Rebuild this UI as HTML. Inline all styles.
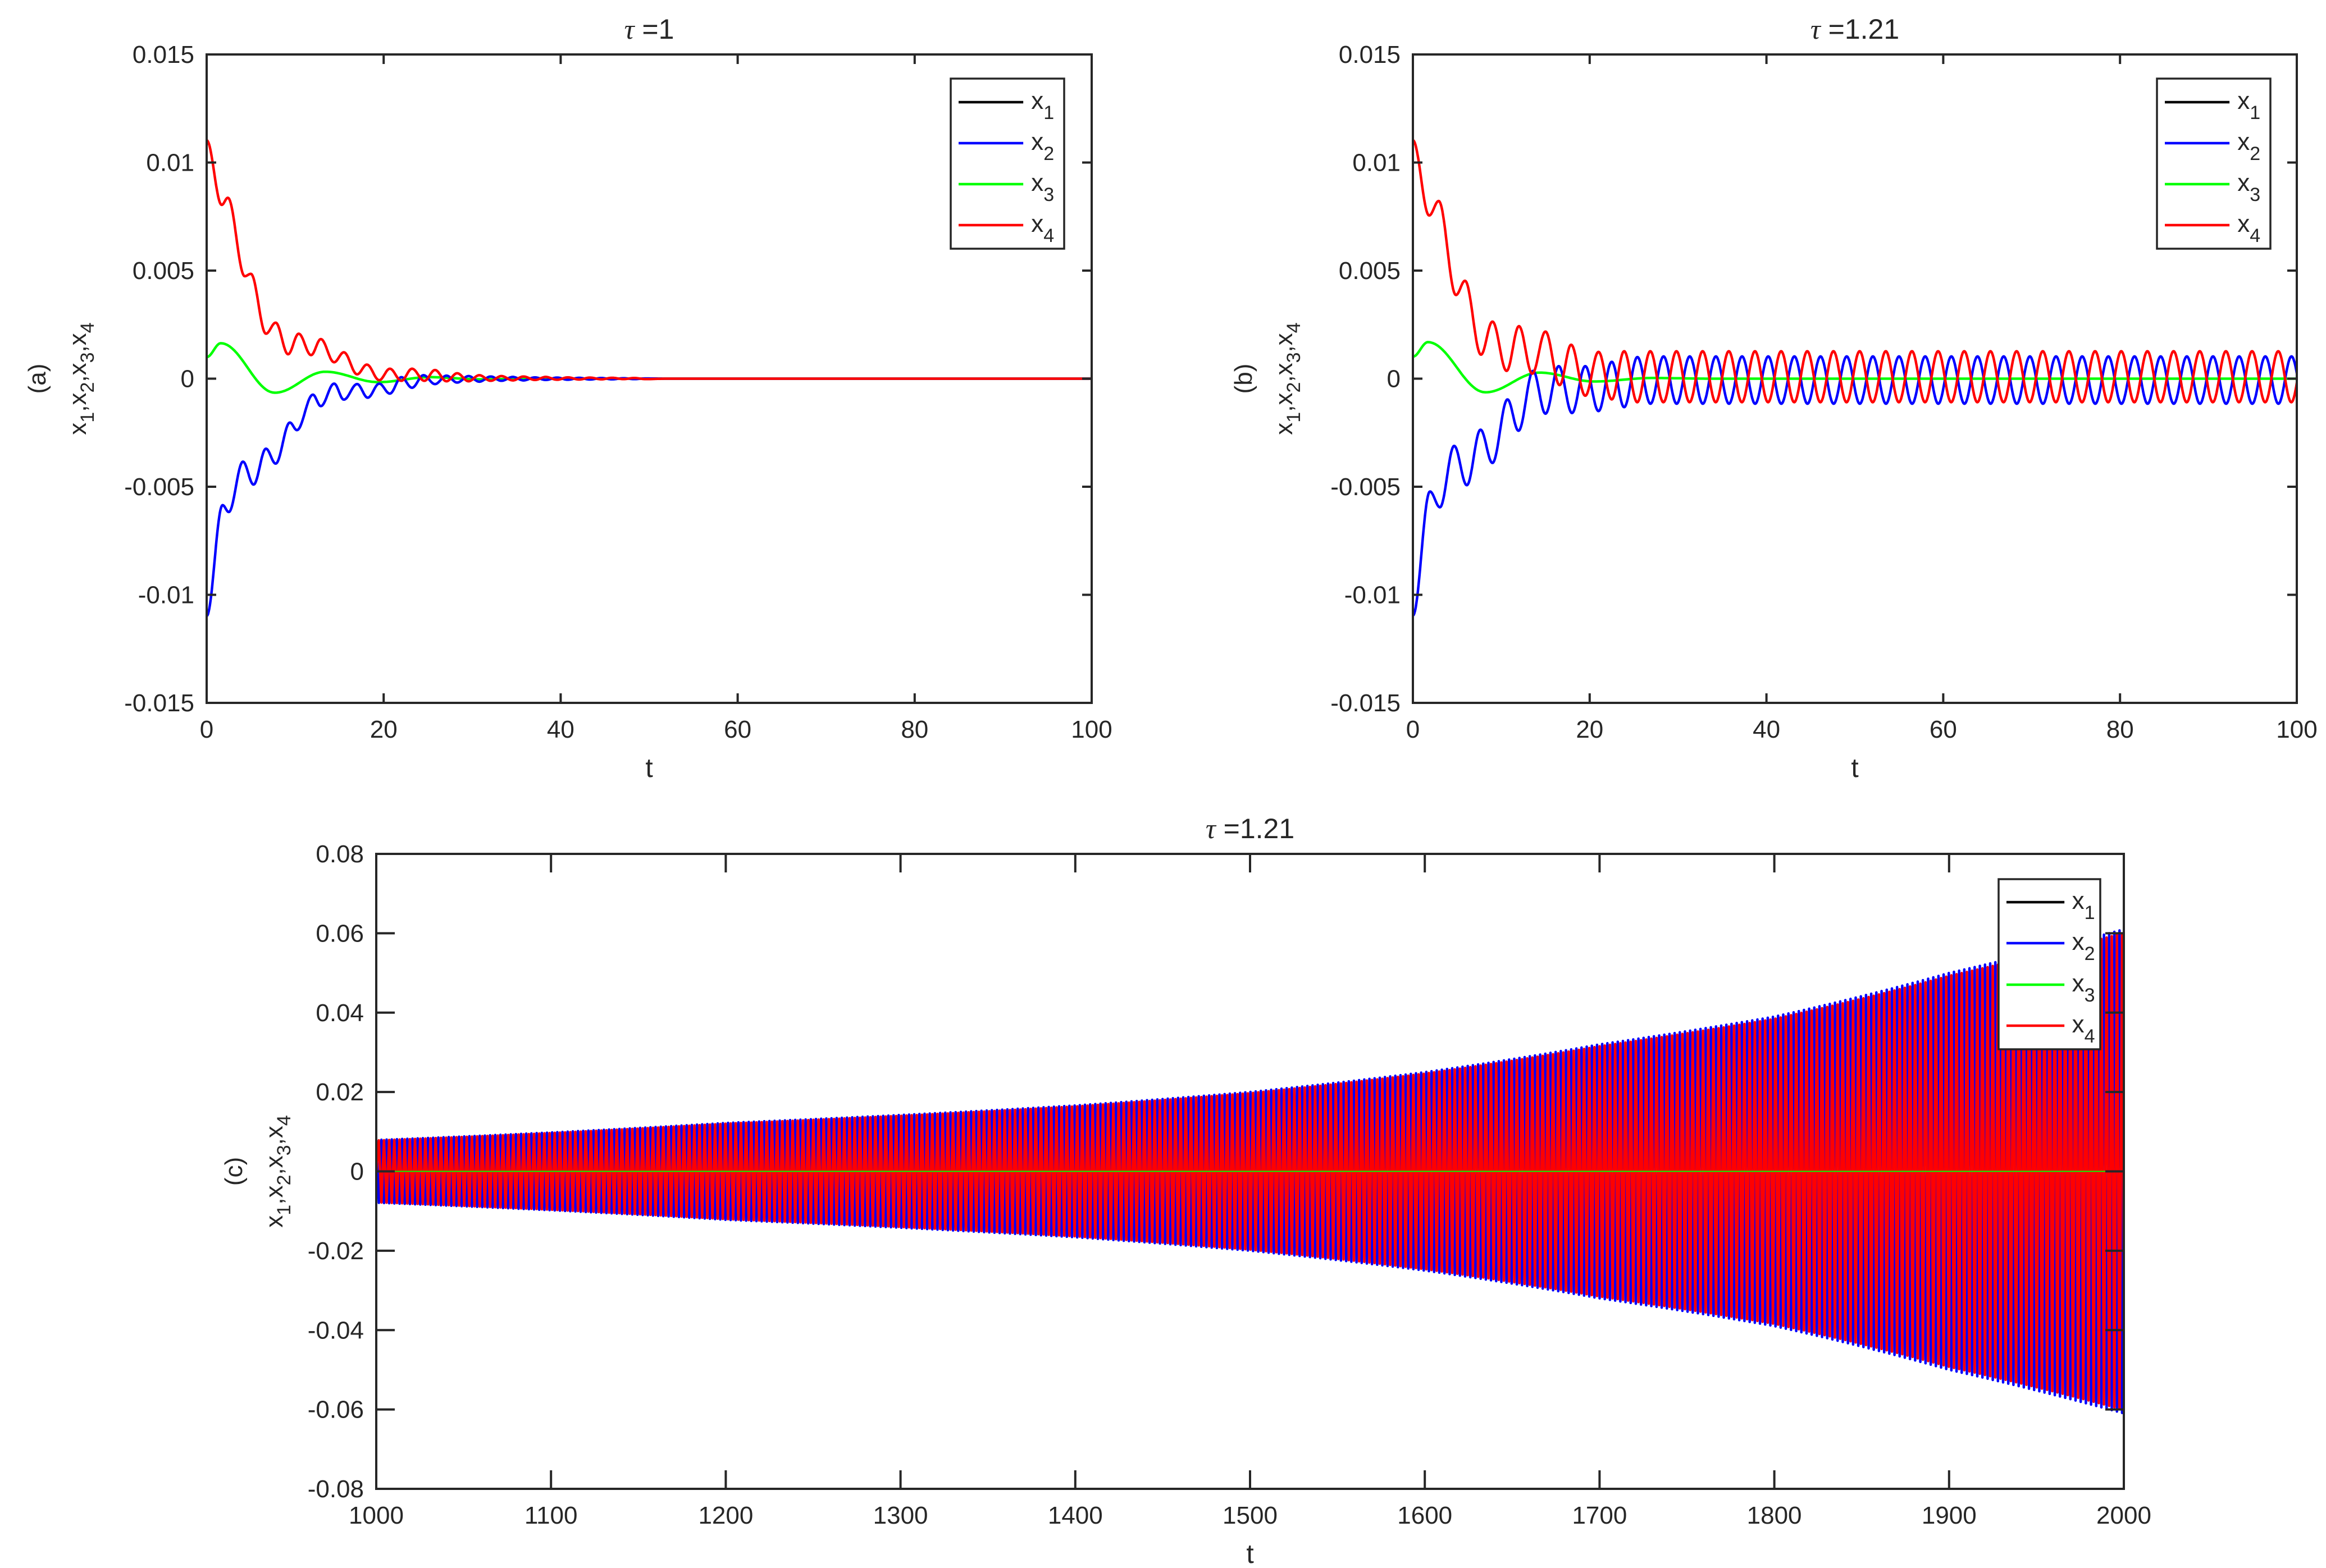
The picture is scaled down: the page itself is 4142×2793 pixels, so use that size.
<!DOCTYPE html>
<html><head><meta charset="utf-8"><style>
html,body{margin:0;padding:0;background:#fff}
svg{display:block}
text{font-family:"Liberation Sans",Arial,sans-serif;fill:#262626}
</style></head><body>
<svg id="fig" xmlns="http://www.w3.org/2000/svg" width="4142" height="2793" viewBox="0 0 4142 2793">
<rect width="4142" height="2793" fill="#fff"/>
</svg>
<script>
// ---- Panel (a) data: extrema (t, value) ----
const aRedT = [0,1.7,2.4,4.3,5,6.7,7.8,9.2,10.4,11.8,12.9,14.4,15.5,17,18.1,19.5,20.7,22,23.2,24.6,25.8,27.1,28.3,29.6,30.8,32.1,33.3,34.6,35.8,37.1,38.3,39.6,40.8,42.1,43.3,44.6,45.8,47.1,48.3,49.6,52,100];
const aRedV = [0.01103,0.00804,0.00837,0.00474,0.00485,0.00208,0.00259,0.00113,0.00208,0.00109,0.00183,0.00076,0.00122,0.0002,0.00065,-0.00007,0.00046,-0.0001,0.00046,-0.0001,0.0004,-0.00012,0.00025,-0.00012,0.00016,-0.0001,0.00012,-0.00008,0.0001,-0.00006,0.00008,-0.00005,0.00006,-0.00004,0.00005,-0.00003,0.00004,-0.00002,0.00003,-0.00002,0,0];
const aBlueT = [0,1.8,2.5,4.1,5.3,6.7,7.8,9.4,10.2,12,12.9,14.4,15.5,17,18.2,19.5,20.7,22,23.2,24.5,25.8,27.1,28.3,29.6,30.8,32.1,33.3,34.6,35.8,37.1,38.3,39.6,40.8,42.1,43.3,44.6,45.8,47.1,48.3,49.6,52,100];
const aBlueV = [-0.01098,-0.00585,-0.00617,-0.00384,-0.0049,-0.00324,-0.00393,-0.00203,-0.00238,-0.00074,-0.00127,-0.00023,-0.00097,-0.00025,-0.00088,-0.00023,-0.00069,0.00007,-0.00042,0.00016,-0.00025,0.00014,-0.00018,0.00012,-0.00014,0.0001,-0.0001,0.00008,-0.00008,0.00006,-0.00006,0.00005,-0.00005,0.00004,-0.00004,0.00003,-0.00003,0.00002,-0.00002,0.00001,0,0];
const aGreenT = [0,1.6,7.7,13.4,19.4,25.2,31,37,45,100];
const aGreenV = [0.001,0.00164,-0.00065,0.00032,-0.00016,0.00007,-0.00003,0.00001,0,0];
// ---- Panel (b) data ----
const bRedT = [0,1.84,2.92,4.87,5.9,7.7,9.0,10.6,12.0,13.5,15.0,16.6,17.9,19.5,21.0,22.5,23.9];
const bRedV = [0.01103,0.00755,0.00822,0.00387,0.00453,0.00111,0.00264,0.00036,0.00243,0.00023,0.00218,-0.0003,0.00157,-0.00079,0.00124,-0.00096,0.00127];
const bRedSteady = [0.00127,-0.00109]; // peak, trough
const bBlueT = [0,1.93,3.06,4.67,6.1,7.65,9.0,10.7,11.95,13.6,15.0,16.5,18.0,19.5,21.0,22.5,23.9,25.4];
const bBlueV = [-0.01096,-0.00522,-0.00595,-0.00311,-0.00493,-0.00236,-0.0039,-0.00096,-0.00241,0.00036,-0.00162,0.00058,-0.00159,0.00058,-0.0015,0.00078,-0.00132,0.001];
const bBlueSteady = [0.00103,-0.00116];
const bGreenT = [0,1.7,8.2,14.3,20.5,27,34,100];
const bGreenV = [0.00102,0.00169,-0.00063,0.00028,-0.00013,0.00003,0,0];
const bPeriod = [2.96];
// ---- Panel (c) data: envelope amplitude ----
const cEnvT = [1000,1100,1200,1300,1400,1500,1600,1700,1800,1900,2000];
const cEnvV = [0.0079,0.0098,0.0122,0.0142,0.0166,0.02,0.025,0.032,0.039,0.05,0.061];
const cPeriod = [2.96];
// ---- tick labels ----
const abXTicks = [0,20,40,60,80,100];
const abYTicks = [-0.015,-0.01,-0.005,0,0.005,0.01,0.015];
const abYLabels = ["-0.015","-0.01","-0.005","0","0.005","0.01","0.015"];
const cXTicks = [1000,1100,1200,1300,1400,1500,1600,1700,1800,1900,2000];
const cYTicks = [-0.08,-0.06,-0.04,-0.02,0,0.02,0.04,0.06,0.08];
const cYLabels = ["-0.08","-0.06","-0.04","-0.02","0","0.02","0.04","0.06","0.08"];

const NS="http://www.w3.org/2000/svg";
const svg=document.getElementById('fig');
function mk(tag,attrs,parent){const e=document.createElementNS(NS,tag);for(const k in attrs)e.setAttribute(k,attrs[k]);(parent||svg).appendChild(e);return e;}

function panel(p){
  const g=mk('g',{});
  
  
  p.g=g;
  p.sx=t=>p.L+(t-p.x0)/(p.x1-p.x0)*(p.R-p.L);
  p.sy=v=>p.B-(v-p.y0)/(p.y1-p.y0)*(p.B-p.T);
  const cp=mk('clipPath',{id:p.name+'-clip'},g);
  mk('rect',{x:p.L,y:p.T,width:p.R-p.L,height:p.B-p.T},cp);
  p.plot=mk('g',{'clip-path':'url(#'+p.name+'-clip)'},g);
  
  
  return p;
}
function axes(p,xt,yt,yl,tl,title,lab){
  const g=p.g;
  const ax=mk('g',{stroke:'#262626','stroke-width':4,fill:'none'},g);
  
  
  mk('rect',{x:p.L,y:p.T,width:p.R-p.L,height:p.B-p.T},ax);
  xt.forEach(t=>{const x=p.sx(t);
    mk('line',{x1:x,y1:p.B,x2:x,y2:p.B-tl},ax);mk('line',{x1:x,y1:p.T,x2:x,y2:p.T+tl},ax);
    const tx=mk('text',{x:x,y:p.B+62,'font-size':44,'text-anchor':'middle'},g);tx.textContent=String(t);
    
    
  });
  yt.forEach((v,i)=>{const y=p.sy(v);
    mk('line',{x1:p.L,y1:y,x2:p.L+tl,y2:y},ax);mk('line',{x1:p.R,y1:y,x2:p.R-tl,y2:y},ax);
    const tx=mk('text',{x:p.L-22,y:y+15,'font-size':44,'text-anchor':'end'},g);tx.textContent=yl[i];
    
    
  });
  const xl=mk('text',{x:(p.L+p.R)/2,y:p.B+132,'font-size':48,'text-anchor':'middle'},g);xl.textContent='t';
  
  
  const tt=mk('text',{x:(p.L+p.R)/2,y:p.T-28,'font-size':50,'text-anchor':'middle'},g);
  
  
  const ts=mk('tspan',{'font-family':'Liberation Serif','font-style':'italic'},tt);ts.textContent='τ';
  const ts2=mk('tspan',{},tt);ts2.textContent=' ='+title;
  const cx=p.ylx, cy=(p.T+p.B)/2;
  const pl=mk('text',{x:0,y:0,'font-size':44,'text-anchor':'middle',transform:`translate(${cx-72},${cy}) rotate(-90)`},g);
  pl.textContent='('+lab+')';
  
  
  const yt2=mk('text',{x:0,y:0,'font-size':44,'text-anchor':'middle',transform:`translate(${cx},${cy}) rotate(-90)`},g);
  
  
  for(let i=1;i<=4;i++){
    const a=mk('tspan',{},yt2);a.textContent='x';
    const b=mk('tspan',{dy:14,'font-size':34},yt2);b.textContent=String(i);
    const c=mk('tspan',{dy:-14},yt2);c.textContent=i<4?',':'';
  }
}
function legend(p,x,y,w,h,rows){
  const g=mk('g',{},p.g);
  
  
  mk('rect',{x:x,y:y,width:w,height:h,fill:'#fff',stroke:'#262626','stroke-width':3.5},g);
  const cols=['#000','#0000ff','#00ff00','#ff0000'];
  for(let i=0;i<4;i++){
    const yy=rows[i];
    const e=mk('g',{},g);
    
    
    mk('line',{x1:x+14,y1:yy,x2:x+14+(w*0.57),y2:yy,stroke:cols[i],'stroke-width':4.5},e);
    const t=mk('text',{x:x+22+w*0.6,y:yy+12,'font-size':44},e);
    const a=mk('tspan',{},t);a.textContent='x';
    const b=mk('tspan',{dy:18,'font-size':34},t);b.textContent=String(i+1);
  }
}
function extremaPath(p,T,V){
  let d='';
  for(let i=0;i<T.length-1;i++){
    const n=24;
    for(let k=(i==0?0:1);k<=n;k++){
      const s=k/n, t=T[i]+(T[i+1]-T[i])*s, v=V[i]+(V[i+1]-V[i])*(1-Math.cos(Math.PI*s))/2;
      d+=(d?'L':'M')+p.sx(t).toFixed(1)+','+p.sy(v).toFixed(1);
    }
  }
  return d;
}
function series(p,d,col,w,name){
  const e=mk('path',{d:d,fill:'none',stroke:col,'stroke-width':w,'stroke-linejoin':'round'},p.plot);
  
  
}
function withSteady(T,V,steady,period,tEnd){
  const t2=T.slice(),v2=V.slice();
  let t=T[T.length-1], idx=(V[V.length-1]>0)?1:0;
  while(t<tEnd){t+=period/2;t2.push(t);v2.push(steady[idx]);idx=1-idx;}
  return [t2,v2];
}
function envAt(t){
  for(let i=0;i<cEnvT.length-1;i++){if(t<=cEnvT[i+1]){const s=(t-cEnvT[i])/(cEnvT[i+1]-cEnvT[i]);return cEnvV[i]*Math.pow(cEnvV[i+1]/cEnvV[i],s);}}
  return cEnvV[cEnvV.length-1];
}

// Panel a
const pa=panel({name:'panel-a',L:368,R:1944,T:97,B:1252,x0:0,x1:100,y0:-0.015,y1:0.015,ylx:153});
series(pa,extremaPath(pa,aGreenT,aGreenV),'#00ff00',4.5,'series-x3');
series(pa,extremaPath(pa,aBlueT,aBlueV),'#0000ff',4.5,'series-x2');
series(pa,extremaPath(pa,aRedT,aRedV),'#ff0000',4.5,'series-x4');
axes(pa,abXTicks,abYTicks,abYLabels,17,'1','a');
legend(pa,1693,140,202,303,[182,255,328,401]);

// Panel b
const pb=panel({name:'panel-b',L:2516,R:4090,T:97,B:1252,x0:0,x1:100,y0:-0.015,y1:0.015,ylx:2301});
series(pb,extremaPath(pb,bGreenT,bGreenV),'#00ff00',4.5,'series-x3');
let bb=withSteady(bBlueT,bBlueV,bBlueSteady,bPeriod[0],101);
series(pb,extremaPath(pb,bb[0],bb[1]),'#0000ff',4.5,'series-x2');
let br=withSteady(bRedT,bRedV,bRedSteady,bPeriod[0],101);
series(pb,extremaPath(pb,br[0],br[1]),'#ff0000',4.5,'series-x4');
axes(pb,abXTicks,abYTicks,abYLabels,17,'1.21','b');
legend(pb,3841,140,202,303,[182,255,328,401]);

// Panel c
const pc=panel({name:'panel-c',L:670,R:3782,T:1521,B:2652,x0:1000,x1:2000,y0:-0.08,y1:0.08,ylx:503});
function cPath(phase,scale){
  let d='',t=1000+phase,up=true;
  d='M'+pc.sx(1000).toFixed(1)+','+pc.sy(0).toFixed(1);
  while(t<=2001){const v=(up?1:-1)*envAt(Math.min(t,2000))*scale;d+='L'+pc.sx(t).toFixed(1)+','+pc.sy(v).toFixed(1);t+=cPeriod[0]/2;up=!up;}
  return d;
}
series(pc,cPath(0,1.0),'#0000ff',4.5,'series-x2');
series(pc,cPath(cPeriod[0]*0.5,0.985),'#ff0000',4.5,'series-x4');
const gl=mk('line',{x1:pc.L,x2:pc.R,y1:pc.sy(0),y2:pc.sy(0),stroke:'#00ff00','stroke-width':2},pc.plot);


axes(pc,cXTicks,cYTicks,cYLabels,33,'1.21','c');
legend(pc,3559,1566,181,303,[1607,1680,1754,1827]);
</script>
</body></html>
